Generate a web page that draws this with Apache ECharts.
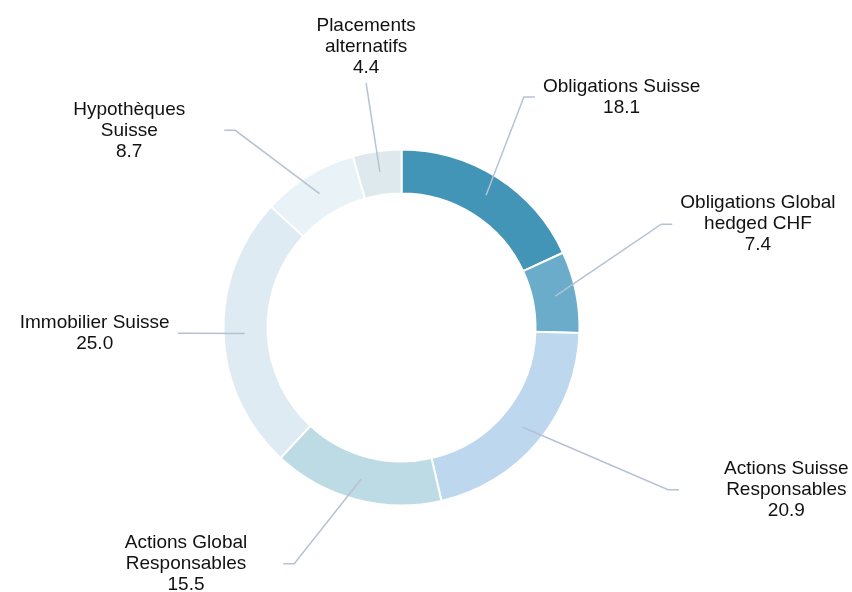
<!DOCTYPE html>
<html>
<head>
<meta charset="utf-8">
<script src="https://cdn.jsdelivr.net/npm/echarts@6/dist/echarts.min.js"></script>
<style>
  html, body { margin: 0; padding: 0; background: #fff; }
  #chart { width: 852px; height: 592px; }
</style>
</head>
<body>
<div id="chart"></div>
<script>
// allocation data
const categories = [
  'Obligations Suisse',
  'Obligations Global hedged CHF',
  'Actions Suisse Responsables',
  'Actions Global Responsables',
  'Immobilier Suisse',
  'Hypothèques Suisse',
  'Placements alternatifs'
]
// how each category name is wrapped in its label
const labelText = [
  'Obligations Suisse',
  'Obligations Global\nhedged CHF',
  'Actions Suisse\nResponsables',
  'Actions Global\nResponsables',
  'Immobilier Suisse',
  'Hypothèques\nSuisse',
  'Placements\nalternatifs'
]
const values = [18.1, 7.4, 20.9, 15.5, 25.0, 8.7, 4.4]

const colors = ['#4395b8', '#6aacca', '#bdd7ee', '#bddbe5', '#deebf2', '#e9f2f6', '#dde9ec']

// label placement tweaks (move elbow of the leader line, space between line end and text)
const tweaks = [
  { dx: -16, dy: -14, gap: 8 },
  { dx: 8, dy: -52, gap: 8 },
  { dx: 68, dy: -1, gap: 45 },
  { dx: -41, dy: -12, gap: 36 },
  { dx: 44, dy: -4, gap: 8 },
  { dx: -32, dy: 22, gap: 39 },
  { dx: 0, dy: 10, above: true }
]

const center = [401.5, 327.5]
const chart = echarts.init(document.getElementById('chart'))

const pieData = categories.map((name, i) => ({ name: name, value: values[i] }))

chart.setOption({
  animation: false,
  color: colors,
  series: [
    {
      // the ring itself
      type: 'pie',
      z: 1,
      center: center,
      radius: [134, 178],
      startAngle: 90,
      clockwise: true,
      silent: true,
      avoidLabelOverlap: false,
      itemStyle: { borderColor: '#fff', borderWidth: 2 },
      label: { show: false },
      labelLine: { show: false },
      emphasis: { disabled: true },
      data: pieData
    },
    {
      // invisible pie, only used to anchor labels in the middle of the ring
      type: 'pie',
      z: 2,
      center: center,
      radius: [0, 157],
      startAngle: 90,
      clockwise: true,
      silent: true,
      avoidLabelOverlap: false,
      itemStyle: { color: 'rgba(0,0,0,0)', borderWidth: 0 },
      emphasis: { disabled: true },
      label: {
        show: true,
        position: 'outside',
        color: '#111',
        fontFamily: 'Liberation Sans, Arial, sans-serif',
        fontSize: 19,
        lineHeight: 21,
        formatter: function (p) {
          return labelText[p.dataIndex] + '\n' + p.value.toFixed(1)
        }
      },
      labelLine: {
        show: true,
        length: 100,
        length2: 11,
        lineStyle: { color: '#b6c1d3', width: 1.5 }
      },
      labelLayout: function (p) {
        const t = tweaks[p.dataIndex]
        const pts = p.labelLinePoints
        const start = pts[0]
        const elbow = [pts[1][0] + t.dx, pts[1][1] + t.dy]
        if (t.above) {
          return {
            x: elbow[0],
            y: elbow[1] - 5,
            align: 'center',
            verticalAlign: 'bottom',
            labelLinePoints: [start, elbow, elbow]
          }
        }
        const dir = pts[2][0] >= pts[1][0] ? 1 : -1
        const end = [elbow[0] + dir * 11, elbow[1]]
        return {
          x: end[0] + dir * (t.gap + p.labelRect.width / 2),
          y: end[1],
          align: 'center',
          verticalAlign: 'middle',
          labelLinePoints: [start, elbow, end]
        }
      },
      data: pieData
    }
  ]
})
</script>
</body>
</html>
